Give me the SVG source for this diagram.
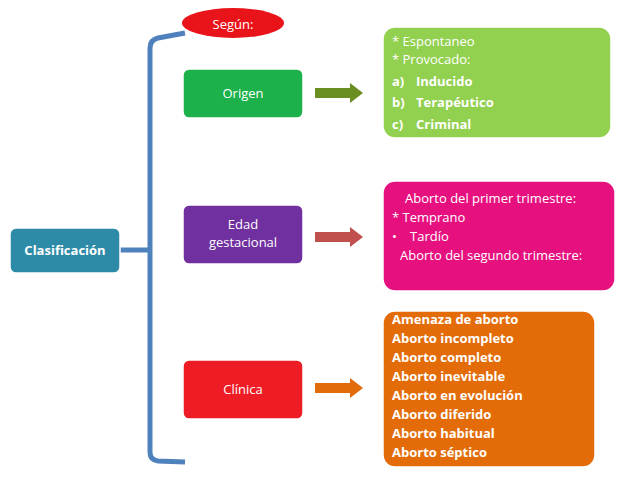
<svg xmlns="http://www.w3.org/2000/svg" width="638" height="479" viewBox="0 0 638 479">
<style>
text{font-family:"Open Sans","Liberation Sans",sans-serif;fill:#fff;font-size:13px}
.b{font-weight:bold}
.n{stroke:#fff;stroke-width:1.5}
</style>
<rect width="638" height="479" fill="#fff"/>
<g id="connectors">
<path d="M185,33 L158,38 Q150,40 150,48 L150,452 Q150,460 158,461 L185,462 M120,250 L150,250" fill="none" stroke="#4F81BD" stroke-width="5"/>
<path d="M315,88 L350,88 L350,83 L363,93 L350,103 L350,98 L315,98 Z" fill="#6B8E23"/>
<path d="M315,232 L350,232 L350,227 L363,237 L350,247 L350,242 L315,242 Z" fill="#C0504D"/>
<path d="M315,383 L350,383 L350,378 L363,388 L350,398 L350,393 L315,393 Z" fill="#E36C0A"/>
</g>
<g id="clasificacion"><rect class="n" x="10" y="228" width="110" height="45" rx="6" fill="#2E8BA8"/><text x="65" y="255" text-anchor="middle" class="b" font-size="12">Clasificación</text></g>
<g id="segun"><ellipse cx="233" cy="23" rx="51" ry="15" fill="#E8141A"/><text x="233" y="29" text-anchor="middle">Según:</text></g>
<g id="origen"><rect class="n" x="183" y="69" width="120" height="49" rx="6" fill="#1DB14B"/><text x="243" y="98" text-anchor="middle">Origen</text></g>
<g id="edad"><rect class="n" x="183" y="205" width="120" height="59" rx="6" fill="#7030A0"/><text x="243" y="229" text-anchor="middle">Edad</text><text x="243" y="247" text-anchor="middle">gestacional</text></g>
<g id="clinica"><rect class="n" x="183" y="360" width="120" height="59" rx="6" fill="#EE1C25"/><text x="243" y="394" text-anchor="middle">Clínica</text></g>
<g id="origen-det"><rect class="n" x="383" y="27" width="228" height="111" rx="12" fill="#92D050"/>
<text x="392" y="46">* Espontaneo</text><text x="392" y="64">* Provocado:</text>
<text y="86" font-size="15" class="b"><tspan x="392">a)</tspan><tspan x="416">Inducido</tspan></text>
<text y="107" font-size="15" class="b"><tspan x="392">b)</tspan><tspan x="416">Terapéutico</tspan></text>
<text y="129" font-size="15" class="b"><tspan x="392">c)</tspan><tspan x="416">Criminal</tspan></text></g>
<g id="edad-det"><rect class="n" x="383" y="181" width="232" height="110" rx="12" fill="#E6117F"/>
<text x="405" y="203">Aborto del primer trimestre:</text><text x="392" y="222">* Temprano</text><text y="241"><tspan x="392">•</tspan><tspan x="410">Tardío</tspan></text><text x="400" y="260">Aborto del segundo trimestre:</text></g>
<g id="clinica-det"><rect class="n" x="383" y="311" width="212" height="156" rx="12" fill="#E36C09"/>
<g class="b"><text x="392" y="324" class="b">Amenaza de aborto</text><text x="392" y="343" class="b">Aborto incompleto</text><text x="392" y="362" class="b">Aborto completo</text><text x="392" y="381" class="b">Aborto inevitable</text><text x="392" y="400" class="b">Aborto en evolución</text><text x="392" y="419" class="b">Aborto diferido</text><text x="392" y="438" class="b">Aborto habitual</text><text x="392" y="457" class="b">Aborto séptico</text></g></g>
</svg>
